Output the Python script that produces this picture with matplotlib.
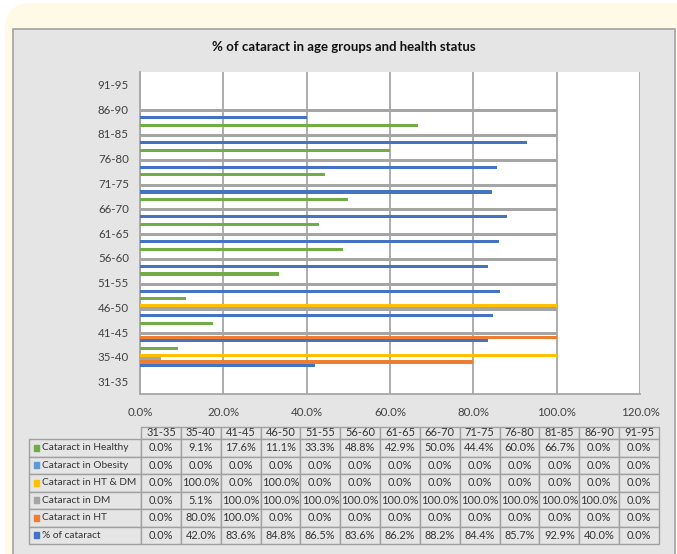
import matplotlib
matplotlib.use("Agg")
import matplotlib.pyplot as plt
import matplotlib.ticker as ticker
from matplotlib.patches import FancyBboxPatch, Rectangle
from matplotlib.transforms import IdentityTransform
import numpy as np

plt.rcParams['font.family'] = ['Lato', 'DejaVu Sans']

age_groups = ['31-35', '35-40', '41-45', '46-50', '51-55', '56-60', '61-65',
              '66-70', '71-75', '76-80', '81-85', '86-90', '91-95']

# values in %
pct_cataract = [0.0, 42.0, 83.6, 84.8, 86.5, 83.6, 86.2, 88.2, 84.4, 85.7, 92.9, 40.0, 0.0]
cat_ht = [0.0, 80.0, 100.0, 0.0, 0.0, 0.0, 0.0, 0.0, 0.0, 0.0, 0.0, 0.0, 0.0]
cat_dm = [0.0, 5.1, 100.0, 100.0, 100.0, 100.0, 100.0, 100.0, 100.0, 100.0, 100.0, 100.0, 0.0]
cat_ht_dm = [0.0, 100.0, 0.0, 100.0, 0.0, 0.0, 0.0, 0.0, 0.0, 0.0, 0.0, 0.0, 0.0]
cat_obesity = [0.0, 0.0, 0.0, 0.0, 0.0, 0.0, 0.0, 0.0, 0.0, 0.0, 0.0, 0.0, 0.0]
cat_healthy = [0.0, 9.1, 17.6, 11.1, 33.3, 48.8, 42.9, 50.0, 44.4, 60.0, 66.7, 0.0, 0.0]

# plotting order (first series sits at the bottom of each group)
series_names = ['% of cataract', 'Cataract in HT', 'Cataract in DM',
                'Cataract in HT & DM', 'Cataract in Obesity', 'Cataract in Healthy']
series_values = [pct_cataract, cat_ht, cat_dm, cat_ht_dm, cat_obesity, cat_healthy]
series_colors = ['#4472C4', '#ED7D31', '#A5A5A5', '#FFC000', '#5B9BD5', '#70AD47']

W, H = 677, 554
fig = plt.figure(figsize=(W / 100, H / 100), dpi=100)
fig.patch.set_facecolor('white')

# backgrounds (pixel coords, origin bottom-left)
fig.patches.append(FancyBboxPatch((5, -60), 720, 611, boxstyle='round,pad=0,rounding_size=26',
                                  transform=IdentityTransform(), facecolor='#FFF9E5',
                                  edgecolor='none', zorder=-3))
fig.patches.append(Rectangle((13, -10), 662, H - 29 + 10, transform=IdentityTransform(),
                             facecolor='#E5E5E5', edgecolor='#A3A3A3', linewidth=1.2, zorder=-2))

fig.text(344 / W, 1 - 47 / H, '% of cataract in age groups and health status',
         ha='center', va='center', fontsize=9.5, fontweight='bold', color='#111111')

# chart area
ax = fig.add_axes([140 / W, 1 - 394 / H, 500 / W, 322 / H])
ax.set_facecolor('white')
y = np.arange(len(age_groups))
step = 0.138
for k, (vals, col) in enumerate(zip(series_values, series_colors)):
    ax.barh(y + (k - 2.5) * step, np.array(vals) / 100, height=0.125, color=col, zorder=3)

ax.set_xlim(0, 1.2)
ax.set_ylim(-0.5, len(age_groups) - 0.5)
ax.set_xticks(np.arange(0, 1.21, 0.2))
ax.xaxis.set_major_formatter(ticker.PercentFormatter(1.0, decimals=1))
ax.set_yticks(y)
ax.set_yticklabels(age_groups)
ax.grid(axis='x', color='#A6A6A6', linewidth=1.3, zorder=1)
ax.tick_params(axis='both', length=0, labelsize=8.3, colors='#404040')
ax.tick_params(axis='y', pad=8)
ax.tick_params(axis='x', pad=9)
for s in ['top', 'right']:
    ax.spines[s].set_visible(False)
for s in ['left', 'bottom']:
    ax.spines[s].set_color('#A6A6A6')
    ax.spines[s].set_linewidth(1.3)

# data table below the chart
tw, th = 630, 117
lab_w, col_w = 112, (630 - 112) / len(age_groups)
head_h, row_h = 12, (117 - 12) / len(series_names)
tax = fig.add_axes([29 / W, 1 - 544 / H, tw / W, th / H])
tax.axis('off')
tax.set_xlim(0, 1)
tax.set_ylim(0, 1)

row_order = list(range(len(series_names)))[::-1]
cell_text = [[f'{v:.1f}%' for v in series_values[i]] for i in row_order]
row_labels = [series_names[i] for i in row_order]
row_colors = [series_colors[i] for i in row_order]

# bbox covers only the value cells; the label column sits to its left
tbl = tax.table(cellText=cell_text, rowLabels=row_labels, colLabels=age_groups,
                cellLoc='center', rowLoc='left',
                bbox=[lab_w / tw, 0, 1 - lab_w / tw, 1])
tbl._autoColumns.clear()  # keep the fixed width of the label column
tbl.auto_set_font_size(False)
tbl.set_fontsize(7.9)
for (r, c), cell in tbl.get_celld().items():
    cell.set_facecolor('#E5E5E5')
    cell.set_edgecolor('#A0A0A0')
    cell.set_linewidth(1.0)
    cell.get_text().set_color('#333333')
    cell.set_width((lab_w if c == -1 else col_w) / tw)
    cell.set_height((head_h if r == 0 else row_h) / th)
    if c == -1:
        cell.PAD = 0.12
        cell.get_text().set_fontsize(7.3)

# legend keys in the row label cells
key_y = [1 - (head_h + row_h * (i + 0.5)) / th for i in range(len(row_labels))]
tax.scatter([7.5 / tw] * len(row_labels), key_y, marker='s', s=17, c=row_colors,
            transform=tax.transAxes, clip_on=False, zorder=5)

fig.savefig('out.png', dpi=100)
